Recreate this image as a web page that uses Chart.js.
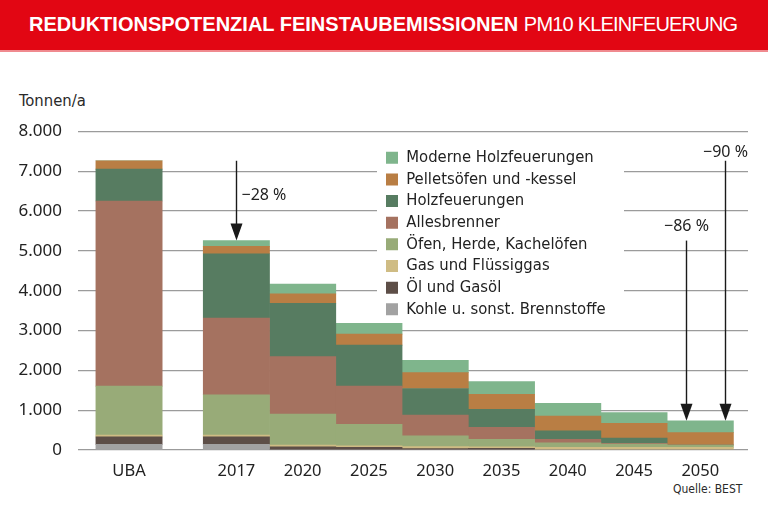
<!DOCTYPE html>
<html>
<head>
<meta charset="utf-8">
<script src="https://cdn.jsdelivr.net/npm/chart.js@4.4.1/dist/chart.umd.min.js"></script>
<style>
  html, body { margin: 0; padding: 0; background: #fff; }
  #wrap { position: relative; width: 768px; height: 512px; overflow: hidden; }
  #band { position: absolute; left: 0; top: 0; width: 768px; height: 50px; background: #e20613; border-bottom: 2px solid #f08a8f; }
  #title { position: absolute; left: 29px; top: 13px; color: #fff; font-family: "Liberation Sans", Arial, sans-serif; font-size: 20px; white-space: nowrap; }
  #title b { font-weight: bold; }
  #title span { letter-spacing: -0.8px; }
  #unit { position: absolute; left: 19px; top: 91px; font-family: "DejaVu Sans Condensed", "DejaVu Sans", sans-serif; font-stretch: condensed; font-weight: normal; font-size: 16.5px; color: #2a2a2a; }
  #src { position: absolute; left: 673px; top: 482px; font-family: "DejaVu Sans Condensed", "DejaVu Sans", sans-serif; font-stretch: condensed; font-weight: normal; font-size: 12px; color: #2a2a2a; }
  #c { position: absolute; left: 0; top: 0; }
</style>
</head>
<body>
<div id="wrap">
  <div id="band"></div>
  <div id="title"><b>REDUKTIONSPOTENZIAL FEINSTAUBEMISSIONEN</b> <span>PM10 KLEINFEUERUNG</span></div>
  <div id="unit">Tonnen/a</div>
  <div id="src">Quelle: BEST</div>
  <canvas id="c" width="768" height="512"></canvas>
</div>
<script>
// ---- data ----
const categories = ['UBA', '2017', '2020', '2025', '2030', '2035', '2040', '2045', '2050'];
const kohle   = [140, 140,    0,    0,   0,   0,   0,   0,   0];
const oel     = [190, 190,   80,   65,  35,  40,   0,   0,   0];
const gas     = [ 45,  45,   45,   40,  50,  40,  65,  65,  65];
const oefen   = [1230, 1010, 780,  540, 270, 190, 115,  85,  60];
const alles   = [4650, 1930, 1440, 960, 520, 300,  85,  20,   0];
const holz    = [800, 1615, 1340, 1030, 670, 450, 215, 130,   0];
const pellet  = [210,  185,  235,  275, 400, 380, 370, 370, 310];
const moderne = [  0,  145,  245,  270, 310, 320, 320, 270, 300];
const yTicks = [0, 1000, 2000, 3000, 4000, 5000, 6000, 7000, 8000];

const seriesNames = ['Kohle u. sonst. Brennstoffe', 'Öl und Gasöl', 'Gas und Flüssiggas', 'Öfen, Herde, Kachelöfen', 'Allesbrenner', 'Holzfeuerungen', 'Pelletsöfen und -kessel', 'Moderne Holzfeuerungen'];
const seriesValues = [kohle, oel, gas, oefen, alles, holz, pellet, moderne];
const seriesColors = ['#a2a2a2', '#5d4e47', '#cfbc84', '#98ab78', '#a57260', '#577c61', '#b97e44', '#7fb58c'];

// layout helpers (not data)
const GAP_AFTER_FIRST = 0.62;
const xOf = i => (i === 0 ? 0 : i + GAP_AFTER_FIRST);
const totals = categories.map((_, i) => seriesValues.reduce((s, arr) => s + arr[i], 0));

const datasets = seriesNames.map((name, k) => ({
  label: name,
  data: categories.map((c, i) => ({ x: xOf(i), y: seriesValues[k][i] })),
  backgroundColor: seriesColors[k],
  borderColor: seriesColors[k],
  borderWidth: 0,
  barPercentage: 1.0,
  categoryPercentage: 1.0
}));

const pct = (a, b) => '\u2212' + Math.round((1 - b / a) * 100) + ' %';
const iFirst = 0, iBase = 1, iLast = categories.length - 1;
const arrows = [
  { at: iBase, dx: 0, from: totals[iFirst], to: totals[iBase], text: pct(totals[iFirst], totals[iBase]), place: 'right' },
  { at: iLast, dx: -0.21, from: totals[iBase], to: totals[iLast], text: pct(totals[iBase], totals[iLast]), place: 'above', gap: 14 },
  { at: iLast, dx: 0.38, from: totals[iFirst], to: totals[iLast], text: pct(totals[iFirst], totals[iLast]), place: 'above', gap: 8 }
];

const arrowPlugin = {
  id: 'arrows',
  afterDatasetsDraw(chart) {
    const { ctx, scales: { x, y } } = chart;
    ctx.save();
    arrows.forEach(a => {
      const px = Math.round(x.getPixelForValue(xOf(a.at) + a.dx)) + 0.5;
      const y0 = y.getPixelForValue(a.from);
      const y1 = y.getPixelForValue(a.to);
      ctx.strokeStyle = '#1a1a1a';
      ctx.fillStyle = '#1a1a1a';
      ctx.lineWidth = 1.4;
      ctx.beginPath();
      ctx.moveTo(px, y0);
      ctx.lineTo(px, y1 - 12);
      ctx.stroke();
      ctx.beginPath();
      ctx.moveTo(px - 6, y1 - 17);
      ctx.lineTo(px + 6, y1 - 17);
      ctx.lineTo(px, y1);
      ctx.closePath();
      ctx.fill();
      ctx.font = '16px "Noto Sans", sans-serif';
      ctx.fillStyle = '#222';
      ctx.textBaseline = 'middle';
      if (a.place === 'right') {
        ctx.textAlign = 'left';
        ctx.fillText(a.text, px + 5, y0 + 35);
      } else {
        ctx.textAlign = 'center';
        ctx.fillText(a.text, px, y0 - a.gap);
      }
    });
    ctx.restore();
  }
};

const LEG = { left: 386, top: 149.5, boxLeft: 377, boxTop: 142, boxRight: 624, boxBottom: 321, font: 16.5, step: 21.65 };
LEG.pad = LEG.step - LEG.font;
const legendPlacer = {
  id: 'legendPlacer',
  afterLayout(chart) {
    const lg = chart.legend;
    if (!lg) return;
    lg.left = LEG.left - LEG.pad;
    lg.top = LEG.top - LEG.pad;
    lg.right = LEG.boxRight;
    lg.bottom = 500;
    if (!lg._whiteBg) {
      const orig = lg.draw.bind(lg);
      lg.draw = function () {
        const c = chart.ctx;
        c.save();
        c.fillStyle = '#ffffff';
        c.fillRect(LEG.boxLeft, LEG.boxTop, LEG.boxRight - LEG.boxLeft, LEG.boxBottom - LEG.boxTop);
        c.restore();
        orig();
      };
      lg._whiteBg = true;
    }
  }
};

new Chart(document.getElementById('c'), {
  type: 'bar',
  data: { datasets },
  plugins: [legendPlacer, arrowPlugin],
  options: {
    responsive: false,
    animation: false,
    devicePixelRatio: 1,
    layout: { padding: { top: 131.5, right: 20, left: 0, bottom: 0 } },
    plugins: {
      title: { display: false },
      tooltip: { enabled: false },
      legend: {
        position: 'chartArea',
        align: 'start',
        reverse: true,
        labels: {
          boxWidth: 12,
          boxHeight: 12,
          padding: LEG.pad,
          color: '#222',
          font: { family: '"DejaVu Sans Condensed", "DejaVu Sans", sans-serif', size: LEG.font }
        }
      }
    },
    scales: {
      x: {
        type: 'linear',
        stacked: true,
        offset: false,
        min: -0.77,
        max: 9.34,
        grid: { display: false, drawTicks: false },
        border: { display: false },
        afterBuildTicks: s => { s.ticks = categories.map((_, i) => ({ value: xOf(i) })); },
        afterFit: s => { s.height = 62; },
        ticks: {
          autoSkip: false,
          maxRotation: 0,
          padding: 11,
          color: '#222',
          font: { family: '"Noto Sans", sans-serif', size: 16.5 },
          callback: v => { const i = categories.findIndex((_, k) => Math.abs(xOf(k) - v) < 1e-6); return i >= 0 ? categories[i] : ''; }
        }
      },
      y: {
        stacked: true,
        min: 0,
        max: 8000,
        afterBuildTicks: s => { s.ticks = yTicks.map(v => ({ value: v })); },
        afterFit: s => { s.width = 78; },
        grid: { color: '#9b9b9b', lineWidth: 1.3, drawTicks: false },
        border: { display: false },
        ticks: {
          padding: 16,
          color: '#222',
          font: { family: '"Noto Sans", sans-serif', size: 17 },
          callback: v => v.toLocaleString('de-DE')
        }
      }
    }
  }
});
</script>
</body>
</html>
